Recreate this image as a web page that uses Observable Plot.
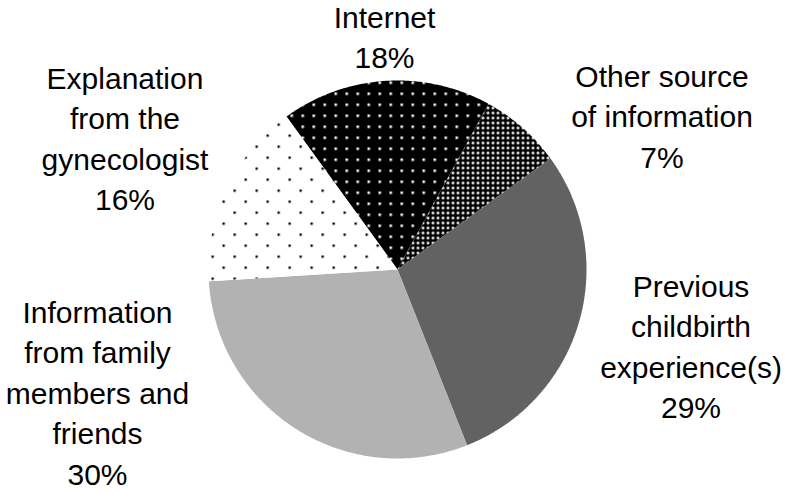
<!DOCTYPE html>
<html>
<head>
<meta charset="utf-8">
<script src="https://cdn.jsdelivr.net/npm/d3@7"></script>
<script src="https://cdn.jsdelivr.net/npm/@observablehq/plot@0.6"></script>
<style>
  html, body { margin: 0; padding: 0; background: #fff; }
  #chart { width: 787px; height: 492px; }
</style>
</head>
<body>
<div id="chart"></div>
<script>
// ---- data ----
const categories = [
  "Internet",
  "Other source of information",
  "Previous childbirth experience(s)",
  "Information from family members and friends",
  "Explanation from the gynecologist"
];
const values = [18, 7, 29, 30, 16];
const labelLines = [
  "Internet\n18%",
  "Other source\nof information\n7%",
  "Previous\nchildbirth\nexperience(s)\n29%",
  "Information\nfrom family\nmembers and\nfriends\n30%",
  "Explanation\nfrom the\ngynecologist\n16%"
];

// ---- layout / style ----
const W = 787, H = 492;
const cx = 397, cy = 269, R = 189;
const startDeg = -36;
const fills = ["url(#pInternet)", "url(#pOther)", "#626262", "#b2b2b2", "url(#pGyn)"];
const labelPos = [ // pixel: centre x, first-line baseline
  [384, 27],
  [661.5, 86],
  [690.5, 296],
  [97, 322],
  [124.5, 88]
];
const fontSize = 30;
const baselineShift = 0.71 * fontSize + 7;

const total = d3.sum(values);
let acc = startDeg;
const slices = values.map((v, i) => {
  const a0 = acc, a1 = acc + v / total * 360;
  acc = a1;
  const pts = [{x: 0, y: 0}];
  const n = Math.max(2, Math.ceil((a1 - a0) / 0.5));
  for (let k = 0; k <= n; k++) {
    const a = (a0 + (a1 - a0) * k / n) * Math.PI / 180;
    pts.push({x: Math.sin(a), y: Math.cos(a)});
  }
  return {cat: categories[i], pts};
});

const labels = labelLines.map((t, i) => ({
  text: t,
  x: (labelPos[i][0] - cx) / R,
  y: (cy - (labelPos[i][1] - baselineShift)) / R
}));

function defsMark() {
  const defs = d3.create("svg:defs");
  const p1 = defs.append("pattern").attr("id", "pInternet").attr("patternUnits", "userSpaceOnUse")
    .attr("width", 11).attr("height", 11);
  p1.append("rect").attr("width", 11).attr("height", 11).attr("fill", "#000");
  p1.append("rect").attr("x", 4).attr("y", 4).attr("width", 2.5).attr("height", 2.5).attr("fill", "#fff");
  const p2 = defs.append("pattern").attr("id", "pGyn").attr("patternUnits", "userSpaceOnUse")
    .attr("width", 22).attr("height", 22);
  p2.append("rect").attr("width", 22).attr("height", 22).attr("fill", "#fff");
  p2.append("rect").attr("x", 2).attr("y", 2).attr("width", 2.3).attr("height", 2.3).attr("fill", "#000");
  p2.append("rect").attr("x", 13).attr("y", 13).attr("width", 2.3).attr("height", 2.3).attr("fill", "#000");
  const p3 = defs.append("pattern").attr("id", "pOther").attr("patternUnits", "userSpaceOnUse")
    .attr("width", 5).attr("height", 5);
  p3.append("rect").attr("width", 5).attr("height", 5).attr("fill", "#000");
  p3.append("rect").attr("x", 1).attr("y", 2).attr("width", 3).attr("height", 1).attr("fill", "#fff");
  p3.append("rect").attr("x", 2).attr("y", 1).attr("width", 1).attr("height", 3).attr("fill", "#fff");
  p3.append("rect").attr("x", 1.5).attr("y", 1.5).attr("width", 2).attr("height", 2).attr("fill", "#fff");
  return defs.node();
}

const chart = Plot.plot({
  width: W,
  height: H,
  margin: 0,
  x: {domain: [-cx / R, (W - cx) / R], axis: null},
  y: {domain: [-(H - cy) / R, cy / R], axis: null},
  style: {background: "#fff"},
  marks: [
    defsMark,
    ...slices.map((s, i) => Plot.line(s.pts, {
      x: "x", y: "y", curve: "linear-closed",
      fill: fills[i], stroke: "none"
    })),
    Plot.text(labels, {
      x: "x", y: "y", text: "text",
      fontSize: fontSize,
      fontFamily: "Liberation Sans",
      lineHeight: 1.35,
      lineAnchor: "top",
      textAnchor: "middle",
      fill: "#000"
    })
  ]
});
document.getElementById("chart").appendChild(chart);
</script>
</body>
</html>
